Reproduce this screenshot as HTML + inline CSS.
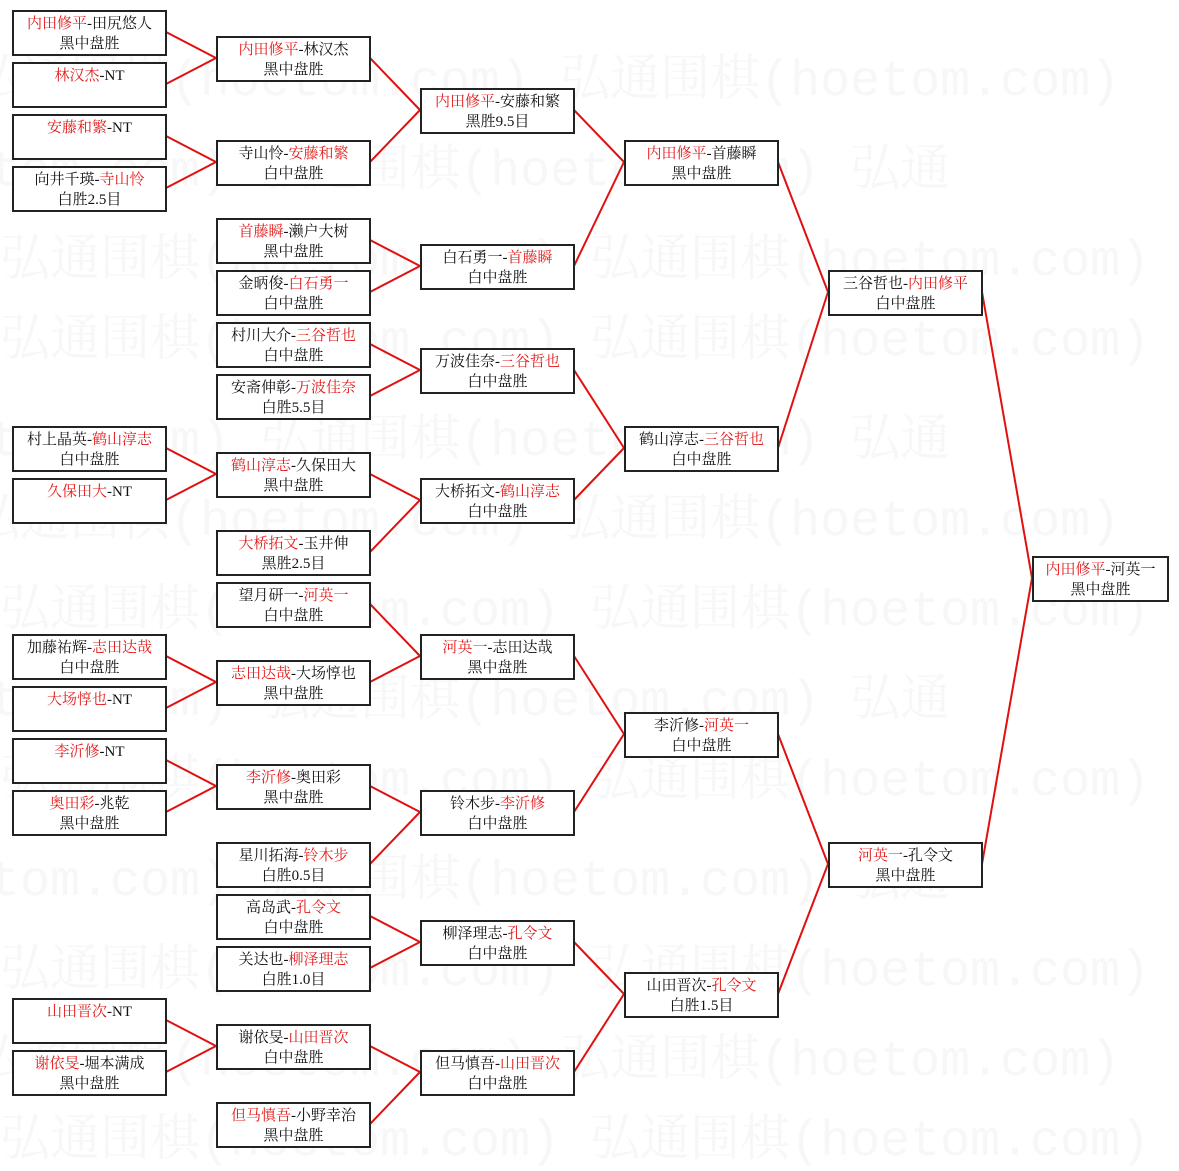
<!DOCTYPE html>
<html><head><meta charset="utf-8"><style>
html,body{margin:0;padding:0;background:#fff;}
body{width:1179px;height:1157px;position:relative;overflow:hidden;font-family:"Liberation Serif","Noto Serif CJK SC","Noto Sans CJK SC",serif;}
.wm{position:absolute;left:0;font-size:50px;color:#f7f7f7;white-space:nowrap;font-family:"Liberation Mono","Noto Serif CJK SC",monospace;}
.b{position:absolute;width:155px;height:46px;box-sizing:border-box;border:2px solid #222;background:#fff;text-align:center;font-size:15px;line-height:20px;padding-top:2px;color:#111;}
.b i{font-style:normal;color:#e21c1c;}
.c6{width:137px;}
svg{position:absolute;left:0;top:0;}
</style></head><body>
<div class="wm" style="top:38px;left:-30px">弘通围棋(hoetom.com) 弘通围棋(hoetom.com)</div>
<div class="wm" style="top:128px;left:-330px">弘通围棋(hoetom.com) 弘通围棋(hoetom.com) 弘通</div>
<div class="wm" style="top:218px;left:0px">弘通围棋(hoetom.com) 弘通围棋(hoetom.com)</div>
<div class="wm" style="top:298px;left:0px">弘通围棋(hoetom.com) 弘通围棋(hoetom.com)</div>
<div class="wm" style="top:398px;left:-330px">弘通围棋(hoetom.com) 弘通围棋(hoetom.com) 弘通</div>
<div class="wm" style="top:478px;left:-30px">弘通围棋(hoetom.com) 弘通围棋(hoetom.com)</div>
<div class="wm" style="top:568px;left:0px">弘通围棋(hoetom.com) 弘通围棋(hoetom.com)</div>
<div class="wm" style="top:658px;left:-330px">弘通围棋(hoetom.com) 弘通围棋(hoetom.com) 弘通</div>
<div class="wm" style="top:738px;left:0px">弘通围棋(hoetom.com) 弘通围棋(hoetom.com)</div>
<div class="wm" style="top:838px;left:-330px">弘通围棋(hoetom.com) 弘通围棋(hoetom.com) 弘通</div>
<div class="wm" style="top:928px;left:0px">弘通围棋(hoetom.com) 弘通围棋(hoetom.com)</div>
<div class="wm" style="top:1018px;left:-30px">弘通围棋(hoetom.com) 弘通围棋(hoetom.com)</div>
<div class="wm" style="top:1098px;left:0px">弘通围棋(hoetom.com) 弘通围棋(hoetom.com)</div>

<svg width="1179" height="1157"><g stroke="#e01010" stroke-width="2" fill="none">
<line x1="166" y1="32" x2="216" y2="58"/><line x1="166" y1="84" x2="216" y2="58"/>
<line x1="166" y1="136" x2="216" y2="162"/><line x1="166" y1="188" x2="216" y2="162"/>
<line x1="166" y1="448" x2="216" y2="474"/><line x1="166" y1="500" x2="216" y2="474"/>
<line x1="166" y1="656" x2="216" y2="682"/><line x1="166" y1="708" x2="216" y2="682"/>
<line x1="166" y1="760" x2="216" y2="786"/><line x1="166" y1="812" x2="216" y2="786"/>
<line x1="166" y1="1020" x2="216" y2="1046"/><line x1="166" y1="1072" x2="216" y2="1046"/>
<line x1="370" y1="58" x2="420" y2="110"/><line x1="370" y1="162" x2="420" y2="110"/>
<line x1="370" y1="240" x2="420" y2="266"/><line x1="370" y1="292" x2="420" y2="266"/>
<line x1="370" y1="344" x2="420" y2="370"/><line x1="370" y1="396" x2="420" y2="370"/>
<line x1="370" y1="474" x2="420" y2="500"/><line x1="370" y1="552" x2="420" y2="500"/>
<line x1="370" y1="604" x2="420" y2="656"/><line x1="370" y1="682" x2="420" y2="656"/>
<line x1="370" y1="786" x2="420" y2="812"/><line x1="370" y1="864" x2="420" y2="812"/>
<line x1="370" y1="916" x2="420" y2="942"/><line x1="370" y1="968" x2="420" y2="942"/>
<line x1="370" y1="1046" x2="420" y2="1072"/><line x1="370" y1="1124" x2="420" y2="1072"/>
<line x1="574" y1="110" x2="624" y2="162"/><line x1="574" y1="266" x2="624" y2="162"/>
<line x1="574" y1="370" x2="624" y2="448"/><line x1="574" y1="500" x2="624" y2="448"/>
<line x1="574" y1="656" x2="624" y2="734"/><line x1="574" y1="812" x2="624" y2="734"/>
<line x1="574" y1="942" x2="624" y2="994"/><line x1="574" y1="1072" x2="624" y2="994"/>
<line x1="778" y1="162" x2="828" y2="292"/><line x1="778" y1="448" x2="828" y2="292"/>
<line x1="778" y1="734" x2="828" y2="864"/><line x1="778" y1="994" x2="828" y2="864"/>
<line x1="982" y1="292" x2="1032" y2="578"/><line x1="982" y1="864" x2="1032" y2="578"/>
</g></svg>

<div class="b" style="left:12px;top:10px"><i>内田修平</i>-田尻悠人<br>黑中盘胜</div>
<div class="b" style="left:12px;top:62px"><i>林汉杰</i>-NT</div>
<div class="b" style="left:12px;top:114px"><i>安藤和繁</i>-NT</div>
<div class="b" style="left:12px;top:166px">向井千瑛-<i>寺山怜</i><br>白胜2.5目</div>
<div class="b" style="left:12px;top:426px">村上晶英-<i>鹤山淳志</i><br>白中盘胜</div>
<div class="b" style="left:12px;top:478px"><i>久保田大</i>-NT</div>
<div class="b" style="left:12px;top:634px">加藤祐辉-<i>志田达哉</i><br>白中盘胜</div>
<div class="b" style="left:12px;top:686px"><i>大场惇也</i>-NT</div>
<div class="b" style="left:12px;top:738px"><i>李沂修</i>-NT</div>
<div class="b" style="left:12px;top:790px"><i>奥田彩</i>-兆乾<br>黑中盘胜</div>
<div class="b" style="left:12px;top:998px"><i>山田晋次</i>-NT</div>
<div class="b" style="left:12px;top:1050px"><i>谢依旻</i>-堀本满成<br>黑中盘胜</div>
<div class="b" style="left:216px;top:36px"><i>内田修平</i>-林汉杰<br>黑中盘胜</div>
<div class="b" style="left:216px;top:140px">寺山怜-<i>安藤和繁</i><br>白中盘胜</div>
<div class="b" style="left:216px;top:218px"><i>首藤瞬</i>-濑户大树<br>黑中盘胜</div>
<div class="b" style="left:216px;top:270px">金昞俊-<i>白石勇一</i><br>白中盘胜</div>
<div class="b" style="left:216px;top:322px">村川大介-<i>三谷哲也</i><br>白中盘胜</div>
<div class="b" style="left:216px;top:374px">安斋伸彰-<i>万波佳奈</i><br>白胜5.5目</div>
<div class="b" style="left:216px;top:452px"><i>鹤山淳志</i>-久保田大<br>黑中盘胜</div>
<div class="b" style="left:216px;top:530px"><i>大桥拓文</i>-玉井伸<br>黑胜2.5目</div>
<div class="b" style="left:216px;top:582px">望月研一-<i>河英一</i><br>白中盘胜</div>
<div class="b" style="left:216px;top:660px"><i>志田达哉</i>-大场惇也<br>黑中盘胜</div>
<div class="b" style="left:216px;top:764px"><i>李沂修</i>-奥田彩<br>黑中盘胜</div>
<div class="b" style="left:216px;top:842px">星川拓海-<i>铃木步</i><br>白胜0.5目</div>
<div class="b" style="left:216px;top:894px">高岛武-<i>孔令文</i><br>白中盘胜</div>
<div class="b" style="left:216px;top:946px">关达也-<i>柳泽理志</i><br>白胜1.0目</div>
<div class="b" style="left:216px;top:1024px">谢依旻-<i>山田晋次</i><br>白中盘胜</div>
<div class="b" style="left:216px;top:1102px"><i>但马慎吾</i>-小野幸治<br>黑中盘胜</div>
<div class="b" style="left:420px;top:88px"><i>内田修平</i>-安藤和繁<br>黑胜9.5目</div>
<div class="b" style="left:420px;top:244px">白石勇一-<i>首藤瞬</i><br>白中盘胜</div>
<div class="b" style="left:420px;top:348px">万波佳奈-<i>三谷哲也</i><br>白中盘胜</div>
<div class="b" style="left:420px;top:478px">大桥拓文-<i>鹤山淳志</i><br>白中盘胜</div>
<div class="b" style="left:420px;top:634px"><i>河英一</i>-志田达哉<br>黑中盘胜</div>
<div class="b" style="left:420px;top:790px">铃木步-<i>李沂修</i><br>白中盘胜</div>
<div class="b" style="left:420px;top:920px">柳泽理志-<i>孔令文</i><br>白中盘胜</div>
<div class="b" style="left:420px;top:1050px">但马慎吾-<i>山田晋次</i><br>白中盘胜</div>
<div class="b" style="left:624px;top:140px"><i>内田修平</i>-首藤瞬<br>黑中盘胜</div>
<div class="b" style="left:624px;top:426px">鹤山淳志-<i>三谷哲也</i><br>白中盘胜</div>
<div class="b" style="left:624px;top:712px">李沂修-<i>河英一</i><br>白中盘胜</div>
<div class="b" style="left:624px;top:972px">山田晋次-<i>孔令文</i><br>白胜1.5目</div>
<div class="b" style="left:828px;top:270px">三谷哲也-<i>内田修平</i><br>白中盘胜</div>
<div class="b" style="left:828px;top:842px"><i>河英一</i>-孔令文<br>黑中盘胜</div>
<div class="b c6" style="left:1032px;top:556px"><i>内田修平</i>-河英一<br>黑中盘胜</div>
</body></html>
